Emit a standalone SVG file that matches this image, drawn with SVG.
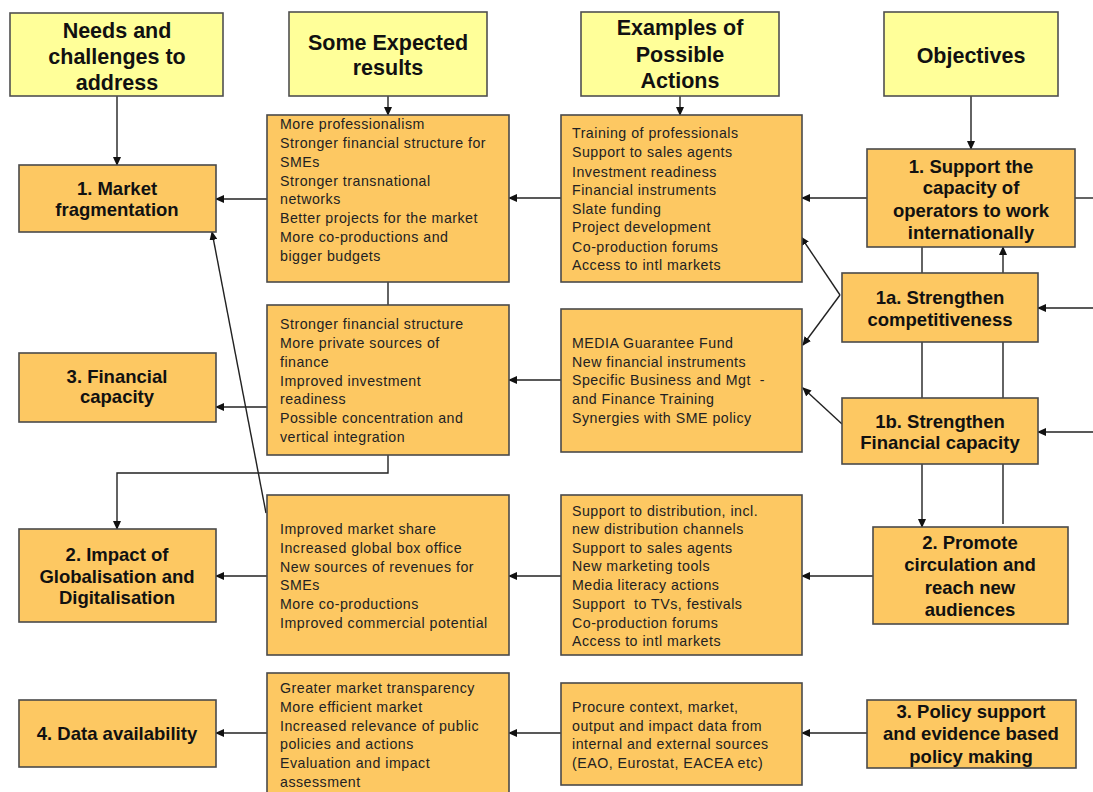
<svg xmlns="http://www.w3.org/2000/svg" width="1093" height="792" viewBox="0 0 1093 792">
<defs>
<marker id="ah" markerWidth="9" markerHeight="8" refX="8" refY="4" orient="auto" markerUnits="userSpaceOnUse">
<path d="M0,0 L9,4 L0,8 z" fill="#111"/>
</marker>
<style>
.hdr{fill:#FFFF99;stroke:#505050;stroke-width:1.6}
.box{fill:#FDC862;stroke:#4a4a4a;stroke-width:1.6}
.ht{font-family:"Liberation Sans",Arial,sans-serif;font-weight:bold;font-size:21.5px;fill:#111;text-anchor:middle}
.nt{font-family:"Liberation Sans",Arial,sans-serif;font-weight:bold;font-size:18.5px;fill:#111;text-anchor:middle}
.lt{font-family:"Liberation Sans",Arial,sans-serif;font-size:14.2px;letter-spacing:0.5px;fill:#222;white-space:pre}
.c{fill:none;stroke:#222;stroke-width:1.4}
.a{fill:none;stroke:#222;stroke-width:1.4;marker-end:url(#ah)}
</style>
</defs>
<rect width="1093" height="792" fill="#fff"/>

<g id="connectors">
<line class="a" x1="117" y1="96" x2="117" y2="165"/>
<line class="a" x1="388" y1="96" x2="388" y2="115"/>
<line class="a" x1="680" y1="96" x2="680" y2="115"/>
<line class="a" x1="971" y1="96" x2="971" y2="149"/>
<line class="a" x1="267" y1="199" x2="216" y2="199"/>
<line class="a" x1="561" y1="198" x2="509" y2="198"/>
<line class="a" x1="867" y1="198" x2="802" y2="198"/>
<line class="c" x1="1075" y1="198" x2="1093" y2="198"/>
<line class="c" x1="388" y1="282" x2="388" y2="305"/>
<line class="c" x1="922" y1="247" x2="922" y2="273"/>
<line class="a" x1="1003" y1="273" x2="1003" y2="247"/>
<line class="a" x1="1093" y1="308" x2="1038" y2="308"/>
<line class="a" x1="840" y1="295" x2="801" y2="237"/>
<line class="a" x1="840" y1="295" x2="803" y2="345"/>
<line class="a" x1="842" y1="424" x2="803" y2="388"/>
<line class="c" x1="922" y1="342" x2="922" y2="398"/>
<line class="c" x1="1003" y1="342" x2="1003" y2="398"/>
<line class="a" x1="1093" y1="432" x2="1038" y2="432"/>
<line class="a" x1="922" y1="464" x2="922" y2="527"/>
<line class="c" x1="1003" y1="464" x2="1003" y2="524"/>
<line class="a" x1="561" y1="380" x2="509" y2="380"/>
<line class="a" x1="267" y1="407" x2="216" y2="407"/>
<polyline class="a" points="388,455 388,473 117,473 117,529"/>
<line class="a" x1="266" y1="513" x2="212" y2="232"/>
<line class="a" x1="873" y1="576" x2="802" y2="576"/>
<line class="a" x1="561" y1="576" x2="509" y2="576"/>
<line class="a" x1="267" y1="576" x2="216" y2="576"/>
<line class="a" x1="867" y1="733" x2="802" y2="733"/>
<line class="a" x1="561" y1="733" x2="509" y2="733"/>
<line class="a" x1="267" y1="733" x2="216" y2="733"/>
</g>

<g id="h-needs">
<rect class="hdr" x="10" y="13" width="213" height="83"/>
<text class="ht" x="117" y="38">Needs and</text>
<text class="ht" x="117" y="64">challenges to</text>
<text class="ht" x="117" y="90">address</text>
</g>
<g id="h-results">
<rect class="hdr" x="289" y="12" width="198" height="84"/>
<text class="ht" x="388" y="50">Some Expected</text>
<text class="ht" x="388" y="75">results</text>
</g>
<g id="h-actions">
<rect class="hdr" x="581" y="12" width="198" height="84"/>
<text class="ht" x="680" y="35">Examples of</text>
<text class="ht" x="680" y="62">Possible</text>
<text class="ht" x="680" y="88">Actions</text>
</g>
<g id="h-objectives">
<rect class="hdr" x="884" y="12" width="174" height="84"/>
<text class="ht" x="971" y="63">Objectives</text>
</g>

<g id="n1">
<rect class="box" x="19" y="165" width="197" height="67"/>
<text class="nt" x="117" y="195">1. Market</text>
<text class="nt" x="117" y="216">fragmentation</text>
</g>
<g id="n3">
<rect class="box" x="19" y="353" width="197" height="69"/>
<text class="nt" x="117" y="383">3. Financial</text>
<text class="nt" x="117" y="403">capacity</text>
</g>
<g id="n2">
<rect class="box" x="19" y="529" width="197" height="93"/>
<text class="nt" x="117" y="561">2. Impact of</text>
<text class="nt" x="117" y="583">Globalisation and</text>
<text class="nt" x="117" y="604">Digitalisation</text>
</g>
<g id="n4">
<rect class="box" x="19" y="700" width="197" height="67"/>
<text class="nt" x="117" y="740">4. Data availability</text>
</g>

<g id="r1">
<rect class="box" x="267" y="115" width="242" height="167"/>
<text class="lt" x="280" y="129">More professionalism</text>
<text class="lt" x="280" y="148">Stronger financial structure for</text>
<text class="lt" x="280" y="167">SMEs</text>
<text class="lt" x="280" y="186">Stronger transnational</text>
<text class="lt" x="280" y="204">networks</text>
<text class="lt" x="280" y="223">Better projects for the market</text>
<text class="lt" x="280" y="242">More co-productions and</text>
<text class="lt" x="280" y="261">bigger budgets</text>
</g>
<g id="r2">
<rect class="box" x="267" y="305" width="242" height="150"/>
<text class="lt" x="280" y="329">Stronger financial structure</text>
<text class="lt" x="280" y="348">More private sources of</text>
<text class="lt" x="280" y="367">finance</text>
<text class="lt" x="280" y="386">Improved investment</text>
<text class="lt" x="280" y="404">readiness</text>
<text class="lt" x="280" y="423">Possible concentration and</text>
<text class="lt" x="280" y="442">vertical integration</text>
</g>
<g id="r3">
<rect class="box" x="267" y="495" width="242" height="160"/>
<text class="lt" x="280" y="534">Improved market share</text>
<text class="lt" x="280" y="553">Increased global box office</text>
<text class="lt" x="280" y="572">New sources of revenues for</text>
<text class="lt" x="280" y="590">SMEs</text>
<text class="lt" x="280" y="609">More co-productions</text>
<text class="lt" x="280" y="628">Improved commercial potential</text>
</g>
<g id="r4">
<rect class="box" x="267" y="673" width="242" height="140"/>
<text class="lt" x="280" y="693">Greater market transparency</text>
<text class="lt" x="280" y="712">More efficient market</text>
<text class="lt" x="280" y="731">Increased relevance of public</text>
<text class="lt" x="280" y="749">policies and actions</text>
<text class="lt" x="280" y="768">Evaluation and impact</text>
<text class="lt" x="280" y="787">assessment</text>
</g>

<g id="a1">
<rect class="box" x="561" y="115" width="241" height="167"/>
<text class="lt" x="572" y="138">Training of professionals</text>
<text class="lt" x="572" y="157">Support to sales agents</text>
<text class="lt" x="572" y="177">Investment readiness</text>
<text class="lt" x="572" y="195">Financial instruments</text>
<text class="lt" x="572" y="214">Slate funding</text>
<text class="lt" x="572" y="232">Project development</text>
<text class="lt" x="572" y="252">Co-production forums</text>
<text class="lt" x="572" y="270">Access to intl markets</text>
</g>
<g id="a2">
<rect class="box" x="561" y="309" width="241" height="143"/>
<text class="lt" x="572" y="348">MEDIA Guarantee Fund</text>
<text class="lt" x="572" y="367">New financial instruments</text>
<text class="lt" x="572" y="385" xml:space="preserve">Specific Business and Mgt  -</text>
<text class="lt" x="572" y="404">and Finance Training</text>
<text class="lt" x="572" y="423">Synergies with SME policy</text>
</g>
<g id="a3">
<rect class="box" x="561" y="495" width="241" height="160"/>
<text class="lt" x="572" y="516">Support to distribution, incl.</text>
<text class="lt" x="572" y="534">new distribution channels</text>
<text class="lt" x="572" y="553">Support to sales agents</text>
<text class="lt" x="572" y="571">New marketing tools</text>
<text class="lt" x="572" y="590">Media literacy actions</text>
<text class="lt" x="572" y="609" xml:space="preserve">Support  to TVs, festivals</text>
<text class="lt" x="572" y="628">Co-production forums</text>
<text class="lt" x="572" y="646">Access to intl markets</text>
</g>
<g id="a4">
<rect class="box" x="561" y="683" width="241" height="102"/>
<text class="lt" x="572" y="712">Procure context, market,</text>
<text class="lt" x="572" y="731">output and impact data from</text>
<text class="lt" x="572" y="749">internal and external sources</text>
<text class="lt" x="572" y="768">(EAO, Eurostat, EACEA etc)</text>
</g>

<g id="o1">
<rect class="box" x="867" y="149" width="208" height="98"/>
<text class="nt" x="971" y="173">1. Support the</text>
<text class="nt" x="971" y="194">capacity of</text>
<text class="nt" x="971" y="217">operators to work</text>
<text class="nt" x="971" y="239">internationally</text>
</g>
<g id="o1a">
<rect class="box" x="842" y="273" width="196" height="69"/>
<text class="nt" x="940" y="304">1a. Strengthen</text>
<text class="nt" x="940" y="326">competitiveness</text>
</g>
<g id="o1b">
<rect class="box" x="842" y="398" width="196" height="66"/>
<text class="nt" x="940" y="428">1b. Strengthen</text>
<text class="nt" x="940" y="449">Financial capacity</text>
</g>
<g id="o2">
<rect class="box" x="873" y="527" width="195" height="97"/>
<text class="nt" x="970" y="549">2. Promote</text>
<text class="nt" x="970" y="571">circulation and</text>
<text class="nt" x="970" y="594">reach new</text>
<text class="nt" x="970" y="616">audiences</text>
</g>
<g id="o3">
<rect class="box" x="867" y="700" width="209" height="68"/>
<text class="nt" x="971" y="718">3. Policy support</text>
<text class="nt" x="971" y="740">and evidence based</text>
<text class="nt" x="971" y="763">policy making</text>
</g>
</svg>
